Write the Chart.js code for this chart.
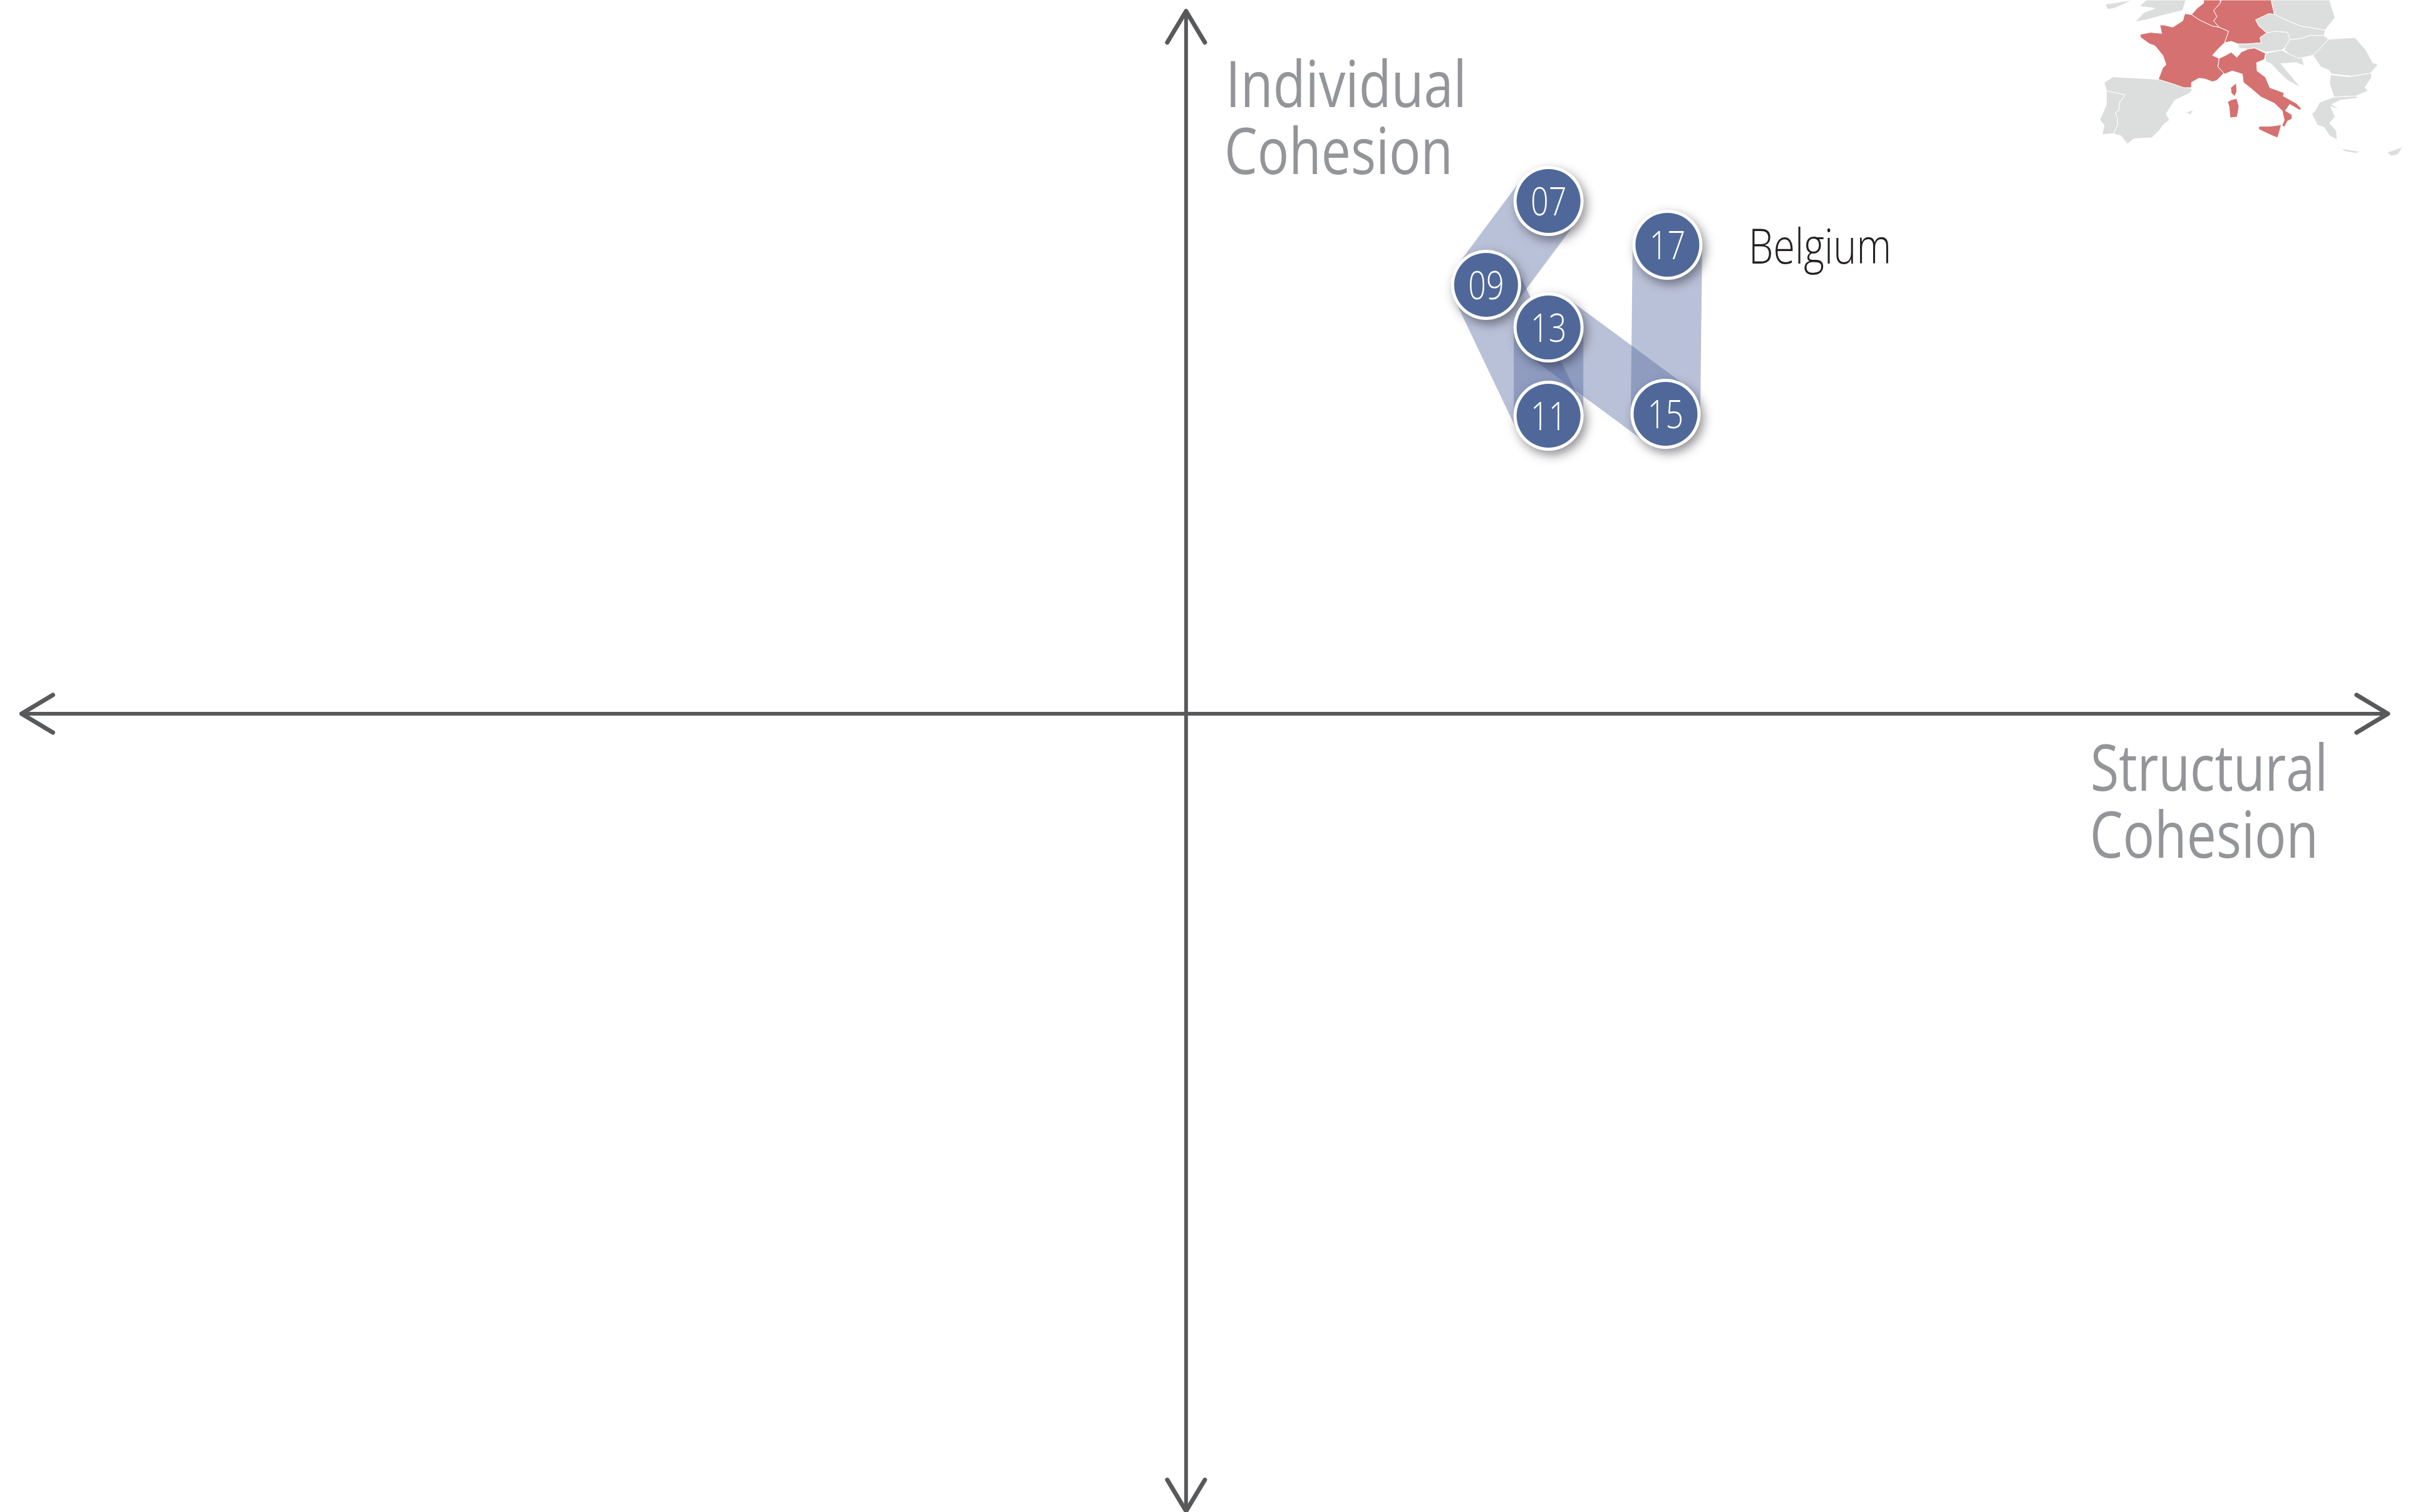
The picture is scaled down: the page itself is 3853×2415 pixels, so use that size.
<!DOCTYPE html>
<html>
<head>
    <title>Belgium cohesion</title>
    <script src="https://cdnjs.cloudflare.com/ajax/libs/Chart.js/4.4.1/chart.umd.js"></script>
    <style>
        html, body { margin: 0; padding: 0; background: #fff; }
        canvas { display: block; }
    </style>
</head>

<body>
    <canvas id="chart-area" width="3853" height="2415"></canvas>

    <script>
		var years = ['07', '09', '11', '13', '15', '17'];
		var structural = [31.05, 25.7, 31.05, 31.05, 41.07, 41.23];
		var individual = [72.8, 60.89, 42.31, 54.84, 42.58, 66.58];

		var countryName = 'Belgium';
		var xAxisName = ['Structural', 'Cohesion'];
		var yAxisName = ['Individual', 'Cohesion'];

		// scale limits, picked so that 0,0 lands on the axis crossing
		var xRange = [-101.6, 105.1];
		var yRange = [-113.33, 101.33];
		var xAxisEnds = [-99.75, 102.95];
		var yAxisEnds = [-113.2, 99.75];

		var axisColor = '#58595b';
		var labelColor = '#939598';
		var dotColor = '#4f6899';
		var bandColor = 'rgba(79,100,158,0.4)';
		var mapRed = '#d57170';
		var mapGrey = '#dcdedd';

		// locator map, traced from a crop of the picture (decoration, not data)
		var mapGreyShapes = [
			[[175,20],[300,0],[215,40],[185,45]],
			[[360,0],[540,0],[525,50],[430,75],[360,95],[310,105],[350,60],[400,40],[330,30]],
			[[925,0],[1190,0],[1215,85],[1180,130],[1170,145],[1060,125],[1000,100],[940,68]],
			[[855,95],[915,65],[940,68],[1000,100],[1060,125],[1170,145],[1165,170],[1100,170],[1060,185],[1010,190],[1000,155],[940,150],[905,158],[870,125]],
			[[905,158],[940,150],[1000,155],[1010,190],[990,225],[975,240],[900,250],[850,230],[815,235],[780,230],[775,210],[815,210],[880,205],[875,180]],
			[[1010,190],[1060,185],[1100,170],[1165,170],[1185,188],[1150,230],[1115,265],[1050,280],[1010,260],[985,240],[990,225]],
			[[1185,188],[1305,180],[1355,240],[1385,300],[1410,310],[1380,345],[1380,350],[1290,365],[1200,355],[1185,335],[1150,320],[1115,265],[1150,230]],
			[[1195,358],[1280,368],[1380,350],[1380,370],[1350,420],[1365,435],[1310,460],[1210,465],[1190,400]],
			[[900,255],[975,240],[1010,260],[1050,280],[1065,275],[1075,315],[1040,300],[970,305],[1060,420],[1000,385],[960,345],[925,305],[900,295]],
			[[1210,465],[1310,460],[1320,470],[1240,480],[1200,500],[1240,530],[1195,510],[1215,560],[1190,590],[1220,625],[1225,670],[1190,650],[1165,610],[1135,600],[1110,545],[1125,530],[1145,490]],
			[[1240,710],[1300,722],[1330,725],[1310,735],[1260,725]],
			[[1450,730],[1520,705],[1500,740],[1470,748]],
			[[540,540],[575,525],[560,550]],
			[[170,395],[210,368],[415,380],[490,405],[570,425],[560,445],[490,480],[450,545],[465,575],[435,600],[420,625],[385,660],[305,665],[275,690],[245,650],[210,640],[230,600],[230,570],[220,540],[235,530],[240,490],[265,455],[180,435]],
			[[180,435],[265,455],[240,490],[235,530],[220,540],[230,570],[230,600],[210,640],[160,645],[170,600],[150,575],[180,500]]
		];
		var mapRedShapes = [
			[[535,65],[565,70],[600,95],[660,125],[690,130],[733,150],[715,205],[690,230],[660,265],[690,280],[685,320],[712,350],[680,385],[660,392],[625,378],[598,375],[565,395],[565,420],[530,420],[490,405],[415,380],[435,325],[450,310],[435,265],[400,220],[375,210],[335,180],[332,165],[380,155],[430,160],[422,120],[440,120],[480,130],[525,100]],
			[[768,398],[770,440],[760,462],[745,445],[742,420]],
			[[690,280],[720,265],[745,250],[770,275],[790,250],[820,235],[850,230],[900,255],[895,285],[860,300],[862,340],[900,370],[920,420],[985,445],[980,460],[1040,495],[1062,520],[1055,528],[1010,500],[990,530],[1020,550],[1020,570],[1000,580],[985,610],[975,600],[985,575],[975,530],[940,495],[880,465],[830,420],[800,395],[795,355],[750,340],[715,355],[685,320]],
			[[745,478],[770,472],[780,510],[772,560],[740,565],[735,510],[728,488]],
			[[870,605],[920,605],[972,598],[955,660],[930,650],[870,620]],
			[[700,0],[925,0],[940,68],[915,65],[855,95],[870,125],[905,158],[875,180],[880,205],[815,210],[775,210],[745,198],[715,205],[733,150],[690,130],[665,100],[680,80],[665,50],[695,15]],
			[[620,0],[695,0],[695,15],[665,50],[680,80],[665,100],[690,130],[660,125],[600,95],[565,70],[590,40],[620,15]]
		];

		function points(xs, ys) {
			return xs.map(function(x, i) { return {x: x, y: ys[i]}; });
		}

		function lineSet(data, color, width, order) {
			return {
				data: data, showLine: true, borderColor: color, borderWidth: width,
				borderCapStyle: 'round', borderJoinStyle: 'round', tension: 0,
				pointRadius: 0, pointHoverRadius: 0, order: order
			};
		}

		var datasets = [];

		// one band per step so the overlaps get darker, like the picture
		for (var i = 0; i < years.length - 1; i++) {
			var band = lineSet(points(structural.slice(i, i + 2), individual.slice(i, i + 2)), bandColor, 111, 20);
			band.borderCapStyle = 'butt';
			datasets.push(band);
		}

		datasets.push(lineSet(points(xAxisEnds, [0, 0]), axisColor, 6, 30));
		datasets.push(lineSet(points([0, 0], yAxisEnds), axisColor, 6, 30));
		// arrow heads
		datasets.push(lineSet(points([xAxisEnds[0] + 2.68, xAxisEnds[0], xAxisEnds[0] + 2.68], [2.67, 0, -2.67]), axisColor, 7, 30));
		datasets.push(lineSet(points([xAxisEnds[1] - 2.68, xAxisEnds[1], xAxisEnds[1] - 2.68], [2.67, 0, -2.67]), axisColor, 7, 30));
		datasets.push(lineSet(points([-1.61, 0, 1.61], [yAxisEnds[1] - 4.44, yAxisEnds[1], yAxisEnds[1] - 4.44]), axisColor, 7, 30));
		datasets.push(lineSet(points([-1.61, 0, 1.61], [yAxisEnds[0] + 4.44, yAxisEnds[0], yAxisEnds[0] + 4.44]), axisColor, 7, 30));

		var ringIndex = datasets.length;
		datasets.push({
			data: points(structural, individual), pointRadius: 56, pointHoverRadius: 56,
			pointBackgroundColor: '#fff', pointBorderWidth: 0, order: 11
		});
		var dotIndex = datasets.length;
		datasets.push({
			data: points(structural, individual), pointRadius: 51, pointHoverRadius: 51,
			pointBackgroundColor: dotColor, pointBorderWidth: 0, order: 10
		});

		function drawShapes(ctx, shapes, color) {
			ctx.fillStyle = color;
			ctx.strokeStyle = '#fff';
			ctx.lineWidth = 1;
			shapes.forEach(function(shape) {
				ctx.beginPath();
				shape.forEach(function(p, n) {
					var px = 3300 + p[0] / 2.835;
					var py = p[1] / 3;
					if (n == 0) ctx.moveTo(px, py); else ctx.lineTo(px, py);
				});
				ctx.closePath();
				ctx.fill();
				ctx.stroke();
			});
		}

		// squeezes the text sideways to a given width, the fonts here are all wider than the original
		function fitText(ctx, text, x, y, width) {
			var w = ctx.measureText(text).width;
			ctx.save();
			ctx.translate(x, y);
			ctx.scale(width / w, 1);
			ctx.fillText(text, 0, 0);
			ctx.restore();
		}

		var extras = {
			id: 'extras',
			beforeDatasetsDraw: function(chart) {
				var ctx = chart.ctx;
				ctx.save();
				drawShapes(ctx, mapGreyShapes, mapGrey);
				drawShapes(ctx, mapRedShapes, mapRed);
				ctx.restore();
			},
			beforeDatasetDraw: function(chart, args) {
				if (args.index == ringIndex) {
					chart.ctx.save();
					chart.ctx.shadowColor = 'rgba(40,40,50,0.5)';
					chart.ctx.shadowBlur = 16;
					chart.ctx.shadowOffsetX = 5;
					chart.ctx.shadowOffsetY = 7;
				}
			},
			afterDatasetDraw: function(chart, args) {
				if (args.index == ringIndex) chart.ctx.restore();
			},
			afterDatasetsDraw: function(chart) {
				var ctx = chart.ctx;
				ctx.save();
				ctx.textAlign = 'left';
				ctx.textBaseline = 'alphabetic';

				ctx.fillStyle = labelColor;
				ctx.font = '102px "Open Sans"';
				fitText(ctx, yAxisName[0], 1957, 171, 385);
				fitText(ctx, yAxisName[1], 1955, 278, 365);
				fitText(ctx, xAxisName[0], 3338, 1263, 379);
				fitText(ctx, xAxisName[1], 3337, 1370, 365);

				ctx.fillStyle = '#231f20';
				ctx.font = '300 77px "Open Sans"';
				fitText(ctx, countryName, 2792, 421, 228);

				ctx.fillStyle = '#fff';
				ctx.font = '300 63px "Open Sans"';
				var dots = chart.getDatasetMeta(dotIndex).data;
				years.forEach(function(year, n) {
					var w = ctx.measureText(year).width * 0.8;
					fitText(ctx, year, dots[n].x - w / 2, dots[n].y + 23, w);
				});
				ctx.restore();
			}
		};

		window.onload = function() {
			var ctx = document.getElementById('chart-area').getContext('2d');
			window.myChart = new Chart(ctx, {
				type: 'scatter',
				data: {datasets: datasets},
				plugins: [extras],
				options: {
					responsive: false,
					animation: false,
					events: [],
					layout: {padding: 0, autoPadding: false},
					plugins: {legend: {display: false}, tooltip: {enabled: false}, title: {display: false}},
					scales: {
						x: {type: 'linear', display: false, min: xRange[0], max: xRange[1]},
						y: {type: 'linear', display: false, min: yRange[0], max: yRange[1]}
					}
				}
			});
		};
    </script>
</body>
</html>
